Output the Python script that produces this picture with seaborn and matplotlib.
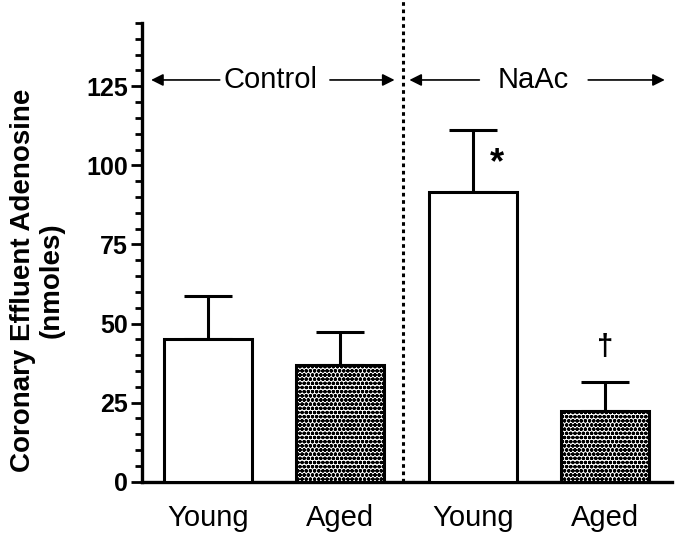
import numpy as np
import pandas as pd
import seaborn as sns
import matplotlib.pyplot as plt
from matplotlib.ticker import MultipleLocator

# ===== data =====
groups = ["Control", "Control", "NaAc", "NaAc"]
ages = ["Young", "Aged", "Young", "Aged"]
means = [45.0, 36.8, 91.6, 22.4]
sems = [13.7, 10.4, 19.5, 9.0]
marks = ["", "", "*", "\u2020"]

sns.set_style("ticks", {"axes.edgecolor": "black", "text.color": "black",
                        "axes.labelcolor": "black", "xtick.color": "black",
                        "ytick.color": "black"})
plt.rcParams['font.family'] = ['Liberation Sans', 'DejaVu Sans']
plt.rcParams['hatch.linewidth'] = 1.2

df = pd.DataFrame({"group": groups, "age": ages, "mean": means})
df["bar"] = [f"{g}-{a}" for g, a in zip(groups, ages)]

fig = plt.figure(figsize=(6.79, 5.43), dpi=100)
ax = fig.add_axes([0.2087, 0.1129, 0.7803, 0.8447])

sns.barplot(data=df, x="bar", y="mean", order=df["bar"], color="white",
            edgecolor="black", linewidth=2.2, width=0.665, errorbar=None,
            saturation=1, ax=ax, zorder=3)

for patch, age in zip(ax.patches, ages):
    if age == "Aged":
        patch.set_hatch("oooo")

xpos = np.arange(len(means))
ax.errorbar(xpos, means, yerr=[np.zeros(len(sems)), sems], fmt="none",
            ecolor="black", elinewidth=2.2, capsize=17, capthick=2.2, zorder=2)

# significance marks
ax.text(2.18, 100.5, marks[2], fontsize=26, fontweight="bold", ha="center", va="center")
ax.text(3.0, 42.6, marks[3], fontsize=21, fontweight="bold", ha="center", va="center")

# divider between treatments
ax.plot([1.47, 1.47], [0, 153], ls=(0, (1.2, 1.2)), color="black", lw=2.2,
        clip_on=False, zorder=1)

# group arrows
arrow = dict(arrowstyle="-|>", color="black", lw=1.2, mutation_scale=18)
ya = 127
ax.annotate("", xy=(-0.45, ya), xytext=(0.11, ya), arrowprops=arrow)
ax.annotate("", xy=(1.43, ya), xytext=(0.90, ya), arrowprops=arrow)
ax.text(0.475, ya, "Control", fontsize=21, ha="center", va="center")
ax.annotate("", xy=(1.50, ya), xytext=(2.07, ya), arrowprops=arrow)
ax.annotate("", xy=(3.47, ya), xytext=(2.85, ya), arrowprops=arrow)
ax.text(2.457, ya, "NaAc", fontsize=21, ha="center", va="center")

ax.set_xlim(-0.5, 3.5)
ax.set_ylim(0, 145)
ax.yaxis.set_major_locator(MultipleLocator(25))
ax.yaxis.set_minor_locator(MultipleLocator(5))
ax.set_xticks(xpos)
ax.set_xticklabels(ages, fontsize=21)
ax.tick_params(axis="x", length=0, pad=16)
ax.tick_params(axis="y", which="major", length=8, width=2, labelsize=18, pad=2)
ax.tick_params(axis="y", which="minor", length=5, width=2)
for lab in ax.get_yticklabels():
    lab.set_fontweight("bold")

ax.set_xlabel("")
ax.set_ylabel("Coronary Effluent Adenosine\n(nmoles)", fontsize=20,
              fontweight="bold", linespacing=1.15)
ax.yaxis.set_label_coords(-0.145, 0.44)

sns.despine(ax=ax)
ax.spines["left"].set_linewidth(2.4)
ax.spines["bottom"].set_linewidth(2.4)

fig.savefig("out.png", dpi=100)
